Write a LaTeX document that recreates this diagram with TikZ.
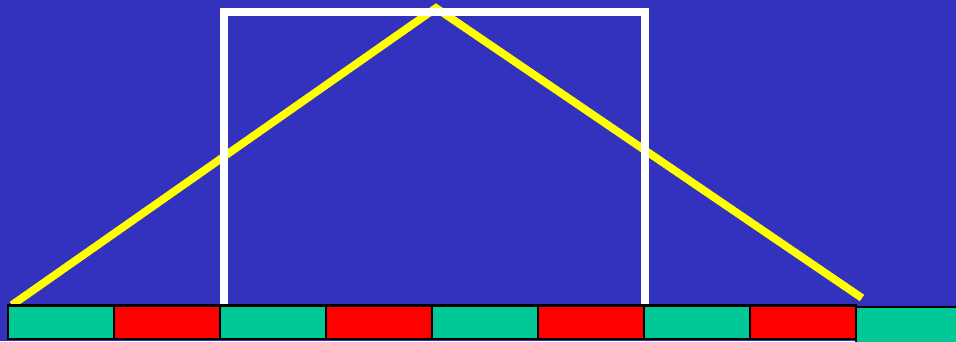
\documentclass[tikz,border=0pt]{standalone}
\definecolor{bgblue}{RGB}{50,50,190}
\definecolor{cellgreen}{RGB}{0,200,150}
\definecolor{cellred}{RGB}{255,0,0}
\definecolor{lineyellow}{RGB}{255,255,0}
\tikzset{
  cellbox/.style={draw=black,line width=2.4pt},
  yline/.style={draw=lineyellow,line width=7.8pt,line join=miter},
  wline/.style={draw=white,line width=8pt,line join=miter}
}
\begin{document}
\begin{tikzpicture}[x=1pt,y=-1pt]
\fill[bgblue] (0,0) rectangle (956,341);
\clip (0,0) rectangle (956,341);
\useasboundingbox (0,0) rectangle (956,341);
% yellow triangle
\draw[yline] (12,305) -- (436,8) -- (862,298);
% white frame
\draw[wline] (224,305) -- (224,12) -- (644.5,12) -- (644.5,305);
% cells
\foreach \i/\c in {0/cellgreen,1/cellred,2/cellgreen,3/cellred,4/cellgreen,5/cellred,6/cellgreen,7/cellred}{
  \filldraw[cellbox,fill=\c] ({8+\i*106},305.5) rectangle ({8+(\i+1)*106},339);
}
\filldraw[cellbox,fill=cellgreen] (856,307) rectangle (960,345);
\end{tikzpicture}
\end{document}
